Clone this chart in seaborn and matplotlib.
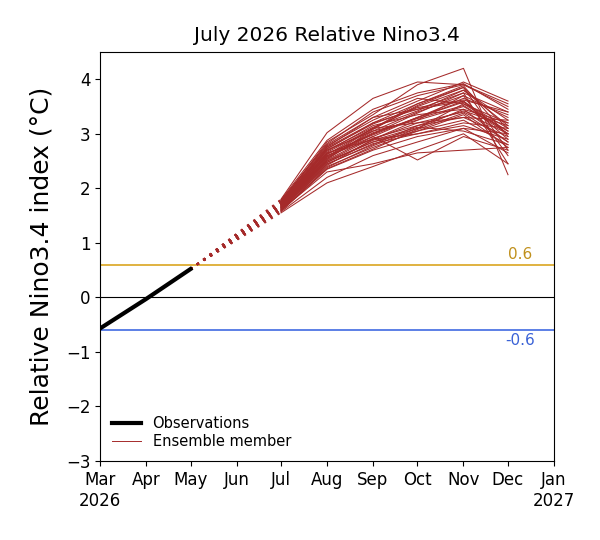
import pandas as pd
import numpy as np
import matplotlib.pyplot as plt
import seaborn as sns
from matplotlib.lines import Line2D

# observed relative Nino3.4 (Mar-May 2026)
obs_months = ["2026-03-01", "2026-04-01", "2026-05-01"]
obs_values = [-0.57, -0.03, 0.52]

# ensemble forecast (Jul-Dec 2026), one row per member
fc_months = ["2026-07-01", "2026-08-01", "2026-09-01", "2026-10-01", "2026-11-01", "2026-12-01"]
members = [
    [1.80, 3.02, 3.65, 3.95, 3.90, 3.55],
    [1.75, 2.85, 3.35, 3.90, 4.20, 2.25],
    [1.70, 2.60, 2.95, 2.52, 2.95, 2.70],
    [1.60, 2.30, 2.45, 2.65, 2.70, 2.75],
    [1.55, 2.10, 2.40, 2.70, 3.00, 2.45],
    [1.65, 2.50, 2.85, 3.10, 3.55, 3.20],
    [1.72, 2.75, 3.20, 3.55, 3.85, 3.10],
    [1.68, 2.55, 3.00, 3.30, 3.60, 2.90],
    [1.78, 2.80, 3.30, 3.45, 3.75, 3.40],
    [1.62, 2.40, 2.75, 3.05, 3.25, 2.80],
    [1.66, 2.62, 3.10, 3.20, 3.40, 3.00],
    [1.74, 2.70, 3.05, 3.40, 3.70, 3.30],
    [1.58, 2.35, 2.70, 2.95, 3.10, 2.65],
    [1.70, 2.65, 2.90, 3.25, 3.50, 3.05],
    [1.76, 2.78, 3.25, 3.60, 3.95, 3.60],
    [1.64, 2.45, 2.80, 3.15, 3.30, 2.95],
    [1.69, 2.58, 3.10, 3.50, 3.80, 3.15],
    [1.73, 2.68, 3.15, 3.35, 3.45, 2.85],
    [1.61, 2.42, 2.90, 3.00, 3.20, 3.10],
    [1.67, 2.52, 2.95, 3.30, 3.65, 3.35],
    [1.77, 2.82, 3.40, 3.70, 3.90, 3.50],
    [1.63, 2.48, 2.85, 3.05, 3.35, 2.75],
    [1.71, 2.72, 3.20, 3.45, 3.60, 3.00],
    [1.59, 2.38, 2.78, 3.10, 3.45, 3.20],
    [1.65, 2.55, 3.05, 3.25, 3.70, 2.60],
    [1.72, 2.66, 3.10, 3.55, 3.88, 2.95],
    [1.68, 2.60, 2.90, 3.20, 3.30, 3.25],
    [1.74, 2.76, 3.30, 3.65, 3.55, 3.05],
    [1.62, 2.44, 2.82, 3.00, 3.15, 2.90],
    [1.70, 2.63, 3.00, 3.38, 3.75, 2.45],
    [1.66, 2.50, 2.92, 3.15, 3.42, 3.15],
    [1.75, 2.73, 3.18, 3.48, 3.62, 3.40],
    [1.60, 2.36, 2.72, 3.08, 3.38, 2.85],
    [1.69, 2.57, 3.02, 3.28, 3.52, 3.00],
    [1.73, 2.70, 3.12, 3.42, 3.80, 3.25],
    [1.64, 2.47, 2.88, 3.12, 3.05, 2.80],
    [1.71, 2.64, 2.98, 3.30, 3.58, 3.10],
    [1.67, 2.53, 3.08, 3.52, 3.85, 2.70],
    [1.57, 2.20, 2.60, 2.85, 3.10, 3.00],
    [1.79, 2.88, 3.45, 3.75, 3.92, 3.45],
]

tick_months = pd.date_range("2026-03-01", "2027-01-01", freq="MS")
tick_labels = ["Mar\n2026", "Apr", "May", "Jun", "Jul", "Aug", "Sep", "Oct", "Nov", "Dec", "Jan\n2027"]

member_color = "#a52a2a"

obs_df = pd.DataFrame({"date": pd.to_datetime(obs_months), "value": obs_values})

rows = []
bridge = []
for i, m in enumerate(members):
    for d, v in zip(fc_months, m):
        rows.append({"member": i, "date": pd.Timestamp(d), "value": v})
    # dotted link from last observation to first forecast month
    bridge.append({"member": i, "date": pd.Timestamp(obs_months[-1]), "value": obs_values[-1]})
    bridge.append({"member": i, "date": pd.Timestamp(fc_months[0]), "value": m[0]})
ens_df = pd.DataFrame(rows)
bridge_df = pd.DataFrame(bridge)

fig = plt.figure(figsize=(6, 5.4), dpi=100)
ax = fig.add_axes([0.1667, 0.1463, 0.7566, 0.7574])

ax.axhline(0.6, color="goldenrod", lw=1.2)
ax.axhline(-0.6, color="royalblue", lw=1.2)
ax.axhline(0, color="black", lw=0.8)

sns.lineplot(data=bridge_df, x="date", y="value", units="member", estimator=None,
             color=member_color, lw=1.0, dashes=False, ax=ax)
for ln in ax.lines[3:]:
    ln.set_dashes((1.5, 4.2))
sns.lineplot(data=ens_df, x="date", y="value", units="member", estimator=None,
             color=member_color, lw=0.75, ax=ax)
sns.lineplot(data=obs_df, x="date", y="value", color="black", lw=3, ax=ax)

ax.text(pd.Timestamp("2026-12-09"), 0.65, "0.6", color="#c0901c", fontsize=11, ha="center", va="bottom")
ax.text(pd.Timestamp("2026-12-09"), -0.65, "-0.6", color="#3a62d6", fontsize=11, ha="center", va="top")

ax.set_xlim(tick_months[0], tick_months[-1])
ax.set_ylim(-3, 4.5)
ax.set_xticks(tick_months)
ax.set_xticklabels(tick_labels, fontsize=12)
ax.set_yticks(range(-3, 5))
ax.set_yticklabels([str(t).replace("-", "\u2212") for t in range(-3, 5)], fontsize=12)
ax.set_xlabel("")
ax.set_ylabel("Relative Nino3.4 index (\u00b0C)", fontsize=18, labelpad=9)
ax.set_title("July 2026 Relative Nino3.4", fontsize=14.5, pad=8)

handles = [Line2D([], [], color="black", lw=3), Line2D([], [], color=member_color, lw=0.7)]
ax.legend(handles, ["Observations", "Ensemble member"], loc="lower left", frameon=False,
          fontsize=10.5, handlelength=2.0, borderaxespad=0.4, labelspacing=0.2)

fig.savefig("out.png", dpi=100)
